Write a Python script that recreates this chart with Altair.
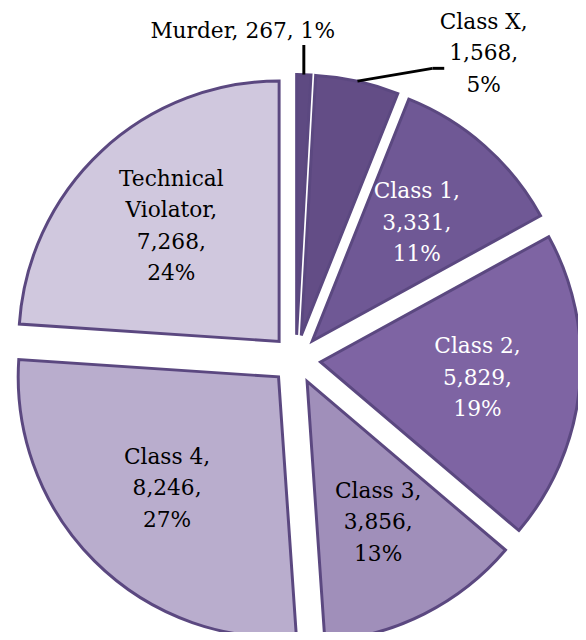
import math
import altair as alt
import pandas as pd

# ---- data ----
categories = ["Murder", "Class X", "Class 1", "Class 2", "Class 3", "Class 4", "Technical Violator"]
counts = [267, 1568, 3331, 5829, 3856, 8246, 7268]
slice_colors = ["#5e4a82", "#634d86", "#6f5895", "#7e64a3", "#a08fba", "#b9adcd", "#d0c8de"]
label_colors = ["black", "black", "white", "white", "black", "black", "black"]

total = sum(counts)


def wrap_name(name):
    return name.replace(" ", "\n") if len(name) > 10 else name


labels = [f"{wrap_name(c)},\n{n:,},\n{round(100 * n / total)}%" for c, n in zip(categories, counts)]
inline_labels = [f"{c},  {n:,}, {round(100 * n / total)}%" for c, n in zip(categories, counts)]

df = pd.DataFrame({
    "order": list(range(len(categories))),
    "category": categories,
    "count": counts,
    "label": labels,
    "inline": inline_labels,
    "lcolor": label_colors,
})

# ---- layout / style ----
W, H = 578, 624
CX, CY = 292, 352
R = 264
EXPLODE = 25
LABEL_R = 160
LH = 32
STROKE = "#5b4880"
FONT = "DejaVu Serif"

theta_scale = alt.Scale(domain=[0, 1], range=[0, 2 * math.pi])

base = (
    alt.Chart(df)
    .transform_joinaggregate(total="sum(count)")
    .transform_window(cum="sum(count)", sort=[alt.SortField("order")])
    .transform_calculate(
        f1="datum.cum / datum.total",
        f0="(datum.cum - datum.count) / datum.total",
    )
    .transform_calculate(fm="(datum.f0 + datum.f1) / 2")
    .transform_calculate(ang="datum.fm * 2 * PI")
    .transform_calculate(
        cx=f"{CX} + {EXPLODE} * sin(datum.ang)",
        cy=f"{CY} - {EXPLODE} * cos(datum.ang)",
        nl="length(split(datum.label, '\\n'))",
    )
    .transform_calculate(
        ax=f"datum.cx + {R} * sin(datum.ang)",
        ay=f"datum.cy - {R} * cos(datum.ang)",
        lx=f"datum.cx + {LABEL_R} * sin(datum.ang)",
        ly=f"datum.cy - {LABEL_R} * cos(datum.ang) - (datum.nl - 1) * {LH} / 2",
    )
)


def px(field):
    return alt.X(f"{field}:Q", scale=None, axis=None)


def py(field):
    return alt.Y(f"{field}:Q", scale=None, axis=None)


arcs = base.mark_arc(radius=R, stroke=STROKE, strokeWidth=3, strokeJoin="miter").encode(
    x=px("cx"),
    y=py("cy"),
    theta=alt.Theta("f0:Q", scale=theta_scale),
    theta2="f1:Q",
    color=alt.Color("category:N", scale=alt.Scale(domain=categories, range=slice_colors), legend=None),
)

inside = (
    base.transform_filter("datum.f1 - datum.f0 >= 0.08")
    .mark_text(font=FONT, fontSize=22, lineBreak="\n", lineHeight=LH, align="center", baseline="middle")
    .encode(
        x=px("lx"),
        y=py("ly"),
        text="label:N",
        color=alt.Color("lcolor:N", scale=None),
    )
)

# callout for Murder: vertical leader, single-line label to the left
murder = base.transform_filter("datum.category == 'Murder'").transform_calculate(ey="datum.ay - 30")
murder_rule = murder.mark_rule(color="black", strokeWidth=3).encode(
    x=px("ax"),
    y=py("ay"),
    y2="ey:Q",
)
murder_text = murder.mark_text(
    font=FONT, fontSize=22, align="center", baseline="middle", dx=-62, dy=-14
).encode(
    x=px("ax"),
    y=py("ey"),
    text="inline:N",
)

# callout for Class X: sloped leader with short horizontal tail, label to the right
cx_data = base.transform_filter("datum.category == 'Class X'").transform_calculate(
    ex="datum.ax + 76", ey="datum.ay - 13", tx="datum.ax + 88"
).transform_calculate(
    ty=f"datum.ey - 15 - (datum.nl - 1) * {LH} / 2"
)
classx_rule1 = cx_data.mark_rule(color="black", strokeWidth=3).encode(
    x=px("ax"),
    y=py("ay"),
    x2="ex:Q",
    y2="ey:Q",
)
classx_rule2 = cx_data.mark_rule(color="black", strokeWidth=3).encode(
    x=px("ex"),
    y=py("ey"),
    x2="tx:Q",
    y2="ey:Q",
)
classx_text = cx_data.mark_text(
    font=FONT, fontSize=22, lineBreak="\n", lineHeight=LH, align="center", baseline="middle", dx=40
).encode(
    x=px("tx"),
    y=py("ty"),
    text="label:N",
)

chart = (
    alt.layer(arcs, inside, murder_rule, murder_text, classx_rule1, classx_rule2, classx_text)
    .properties(width=W, height=H, padding=0, autosize="none", background="white")
    .configure_view(stroke=None)
)

chart.save("out.html", embed_options={"renderer": "svg", "actions": False})
